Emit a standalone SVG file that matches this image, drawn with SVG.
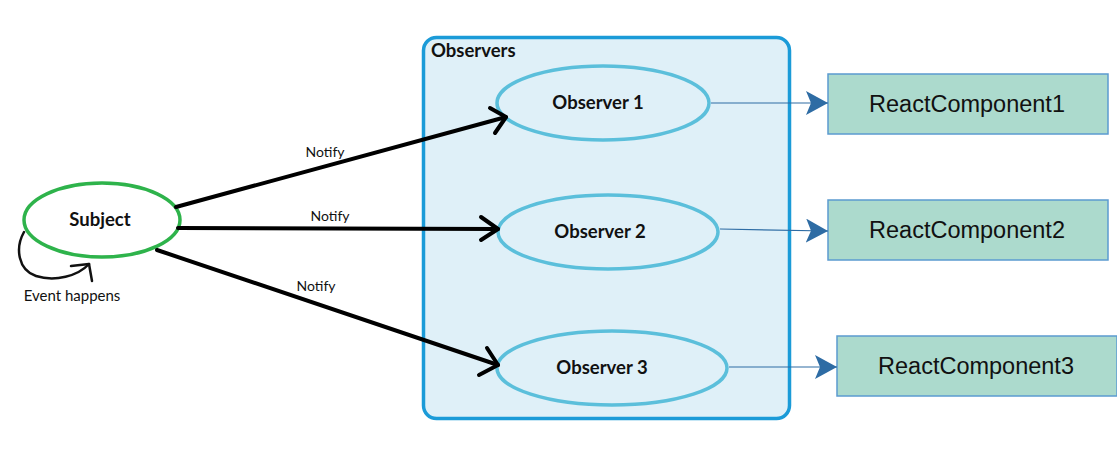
<svg xmlns="http://www.w3.org/2000/svg" width="1117" height="457" viewBox="0 0 1117 457">
  <style>
    .lbl { font-family: Lato, "Noto Sans", "Liberation Sans", sans-serif; fill: #111; }
    .bold { font-weight: bold; font-size: 18.5px; }
    .note { font-size: 14px; }
    .event { font-size: 15px; }
    .obs { fill: none; stroke: #5bbfdb; stroke-width: 3.5; }
    .rc { fill: #acdacd; stroke: #5b9bd0; stroke-width: 1.5; }
    .rctext { font-family: "Liberation Sans", Arial, sans-serif; font-size: 23.5px; fill: #111; }
    .notify { fill: none; stroke: #000; stroke-width: 4; stroke-linecap: round; stroke-linejoin: round; }
    .link { fill: none; stroke: #2e6ca4; stroke-width: 1.2; }
  </style>
  <defs>
    <marker id="tri" markerUnits="userSpaceOnUse" markerWidth="24" markerHeight="26" refX="22" refY="12" orient="auto">
      <path d="M0,0 L22,12 L0,24 L5,12 Z" fill="#2e6ca4"/>
    </marker>
  </defs>

  <rect width="1117" height="457" fill="#fff"/>

  <!-- observers container -->
  <g id="observers">
    <rect x="423.5" y="37.5" width="366" height="381" rx="13" fill="#dff0f8" stroke="#1b9bd8" stroke-width="3.5"/>
    <text class="lbl bold" x="431" y="57">Observers</text>
  </g>

  <!-- subject -->
  <g id="subject">
    <ellipse cx="102" cy="220" rx="78" ry="37" fill="#fff" stroke="#2eb34b" stroke-width="3.5"/>
    <text class="lbl bold" x="100" y="226" text-anchor="middle">Subject</text>
  </g>

  <g id="observer1">
    <ellipse class="obs" cx="603" cy="103" rx="106" ry="37"/>
    <text class="lbl bold" x="598" y="109" text-anchor="middle">Observer 1</text>
  </g>
  <g id="observer2">
    <ellipse class="obs" cx="608" cy="232" rx="110" ry="37"/>
    <text class="lbl bold" x="600" y="238" text-anchor="middle">Observer 2</text>
  </g>
  <g id="observer3">
    <ellipse class="obs" cx="612" cy="368" rx="115" ry="37"/>
    <text class="lbl bold" x="602" y="374" text-anchor="middle">Observer 3</text>
  </g>

  <g id="react1">
    <rect class="rc" x="828" y="74" width="280" height="60"/>
    <text class="rctext" x="967" y="112" text-anchor="middle">ReactComponent1</text>
  </g>
  <g id="react2">
    <rect class="rc" x="828" y="200" width="280" height="60"/>
    <text class="rctext" x="967" y="238" text-anchor="middle">ReactComponent2</text>
  </g>
  <g id="react3">
    <rect class="rc" x="837" y="336" width="280" height="60"/>
    <text class="rctext" x="976" y="374" text-anchor="middle">ReactComponent3</text>
  </g>

  <!-- connectors -->
  <g id="connectors">
    <!-- notify arrows with open heads -->
    <path class="notify" d="M176,207 L506,117"/>
    <path class="notify" d="M490,108 L506,117 L495,133"/>
    <path class="notify" d="M178,228 L498,229"/>
    <path class="notify" d="M481,217 L498,229 L481,240"/>
    <path class="notify" d="M157,250 L498,365"/>
    <path class="notify" d="M487,348 L498,365 L479,375"/>

    <!-- self loop -->
    <path fill="none" stroke="#111" stroke-width="2.5" stroke-linecap="round" d="M24,232 C15,248 18,270 36,276 C55,282 78,276 89,264"/>
    <path fill="none" stroke="#111" stroke-width="2.5" stroke-linecap="round" stroke-linejoin="round" d="M71,266 L89,264 L92,281"/>

    <!-- links to components -->
    <line class="link" x1="711" y1="103" x2="828" y2="103" marker-end="url(#tri)"/>
    <line class="link" x1="720" y1="229" x2="828" y2="231" marker-end="url(#tri)"/>
    <line class="link" x1="729" y1="367" x2="837" y2="367" marker-end="url(#tri)"/>

    <text class="lbl note" x="325" y="157" text-anchor="middle">Notify</text>
    <text class="lbl note" x="330" y="221" text-anchor="middle">Notify</text>
    <text class="lbl note" x="316" y="291" text-anchor="middle">Notify</text>
    <text class="lbl event" x="72" y="301" text-anchor="middle">Event happens</text>
  </g>
</svg>
